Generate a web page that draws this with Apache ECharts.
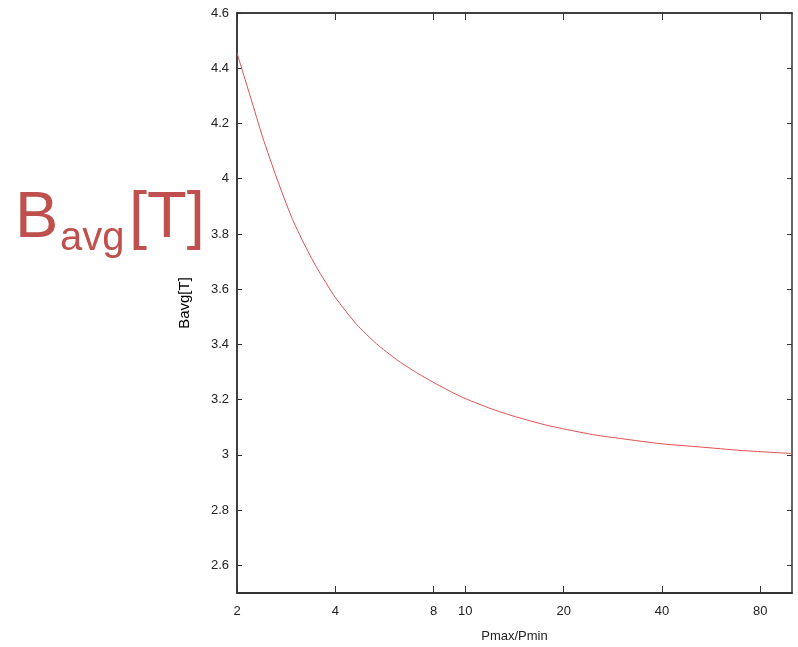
<!DOCTYPE html>
<html>
<head>
<meta charset="utf-8">
<script src="https://cdn.jsdelivr.net/npm/echarts@6/dist/echarts.min.js"></script>
<style>
  html, body { margin: 0; padding: 0; background: #fff; }
  #chart { width: 798px; height: 647px; }
</style>
</head>
<body>
<div id="chart"></div>
<script>
  // Pmax/Pmin values
  var ratio = [2, 2.2, 2.4, 2.65, 2.94, 3.2, 3.5, 4, 4.65, 5.35, 6.16, 7, 8, 9, 10, 12, 14, 17, 20, 25, 30, 40, 52, 70, 100];
  // Bavg [T]
  var bavg = [4.455, 4.295, 4.148, 4.0, 3.86, 3.767, 3.68, 3.57, 3.472, 3.402, 3.345, 3.302, 3.262, 3.23, 3.204, 3.167, 3.141, 3.113, 3.094, 3.072, 3.059, 3.04, 3.029, 3.016, 3.005];
  var xTicks = [2, 4, 8, 10, 20, 40, 80];
  var yTicks = [2.6, 2.8, 3, 3.2, 3.4, 3.6, 3.8, 4, 4.2, 4.4, 4.6];

  var points = ratio.map(function (r, i) { return [r, bavg[i]]; });

  var labelFont = { fontFamily: 'Liberation Sans', fontSize: 13, color: '#222' };
  var bigRed = '#c0504d';

  var myChart = echarts.init(document.getElementById('chart'));
  var option = {
    backgroundColor: '#fff',
    animation: false,
    grid: { left: 237, top: 13, right: 6, bottom: 54, containLabel: false, outerBoundsMode: 'none' },
    xAxis: [
      {
        type: 'log', logBase: 2, min: 2, max: 100,
        name: 'Pmax/Pmin', nameLocation: 'middle', nameGap: 37,
        nameTextStyle: labelFont,
        axisLine: { lineStyle: { color: '#333', width: 2 } },
        axisTick: { inside: true, length: 7, customValues: xTicks, lineStyle: { color: '#333' } },
        axisLabel: Object.assign({ margin: 12, customValues: xTicks }, labelFont),
        splitLine: { show: false },
        minorTick: { show: false }
      },
      {
        type: 'log', logBase: 2, min: 2, max: 100, position: 'top',
        axisLine: { lineStyle: { color: '#000', width: 1.5 } },
        axisTick: { inside: true, length: 7, customValues: xTicks, lineStyle: { color: '#333' } },
        axisLabel: { show: false },
        splitLine: { show: false }
      }
    ],
    yAxis: [
      {
        type: 'value', min: 2.5, max: 4.6,
        name: 'Bavg[T]', nameLocation: 'middle', nameGap: 45, nameRotate: 90,
        nameTextStyle: { fontFamily: 'Liberation Sans', fontSize: 15, color: '#000' },
        axisLine: { lineStyle: { color: '#000', width: 1.5 } },
        axisTick: { inside: true, length: 5, customValues: yTicks, lineStyle: { color: '#333' } },
        axisLabel: Object.assign({ margin: 8, customValues: yTicks }, labelFont),
        splitLine: { show: false }
      },
      {
        type: 'value', min: 2.5, max: 4.6, position: 'right',
        axisLine: { lineStyle: { color: '#333', width: 1.5 } },
        axisTick: { inside: true, length: 5, customValues: yTicks, lineStyle: { color: '#333' } },
        axisLabel: { show: false },
        splitLine: { show: false }
      }
    ],
    series: [
      {
        type: 'line',
        data: points,
        smooth: 0.2,
        symbol: 'none',
        lineStyle: { color: '#e05050', width: 1 }
      }
    ],
    graphic: [
      { type: 'text', style: { text: 'B', fill: bigRed, font: '65px "Liberation Sans"', verticalAlign: 'middle' }, x: 15, y: 219 },
      { type: 'text', style: { text: 'avg', fill: bigRed, font: '40px "Liberation Sans"', verticalAlign: 'middle' }, x: 60, y: 239 },
      { type: 'text', style: { text: '[T]', fill: bigRed, font: '65px "Liberation Sans"', verticalAlign: 'middle' }, x: 129, y: 219 }
    ]
  };
  myChart.setOption(option);
</script>
</body>
</html>
